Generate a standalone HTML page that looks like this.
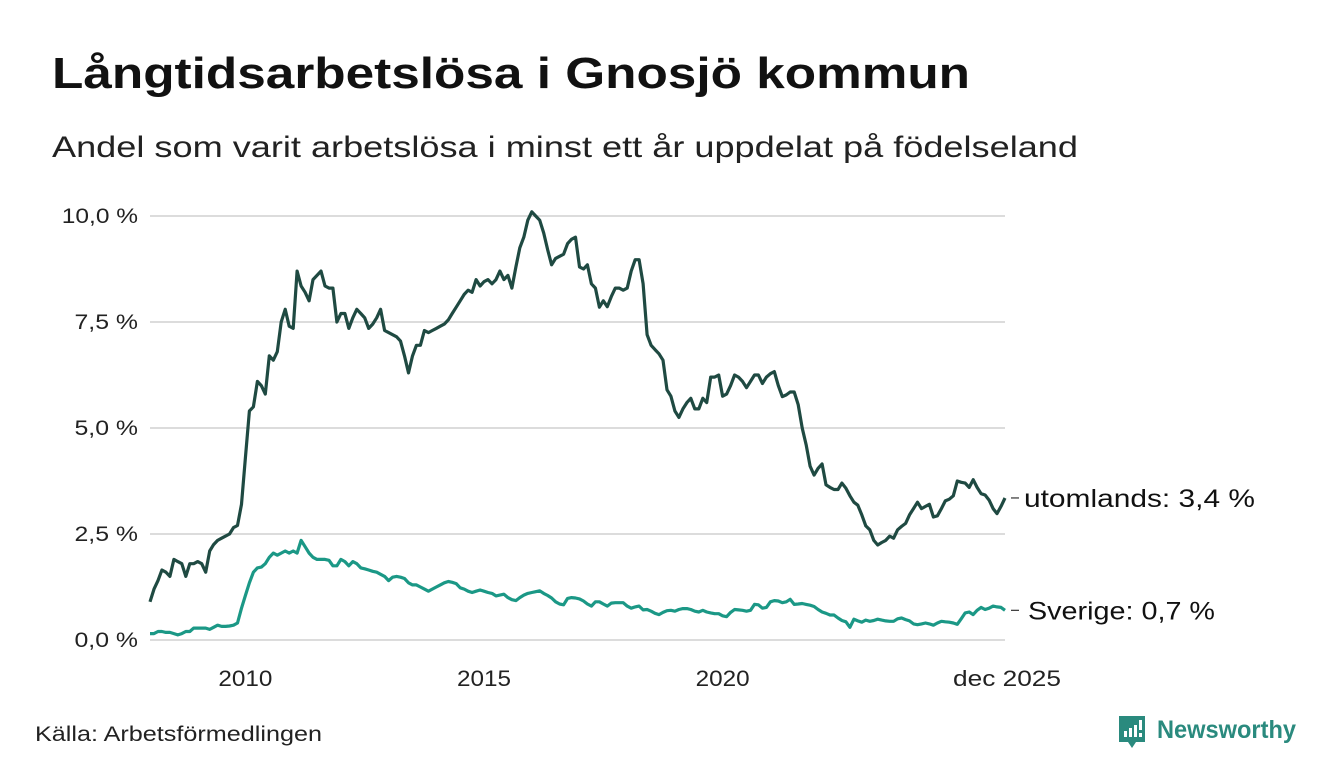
<!DOCTYPE html>
<html><head><meta charset="utf-8"><style>
html,body{margin:0;padding:0;background:#fff;width:1340px;height:780px;overflow:hidden}
svg text{font-family:"Liberation Sans",sans-serif}
</style></head><body>
<svg id="chart" width="1340" height="780" xmlns="http://www.w3.org/2000/svg">
<text x="52" y="88" font-size="44" font-weight="bold" fill="#111" textLength="918" lengthAdjust="spacingAndGlyphs">Långtidsarbetslösa i Gnosjö kommun</text>
<text x="52" y="157" font-size="30" fill="#222" textLength="1026" lengthAdjust="spacingAndGlyphs">Andel som varit arbetslösa i minst ett år uppdelat på födelseland</text>
<g id="grid"></g>
<g id="lines"></g>
<g id="labels"></g>
<text x="35" y="741" font-size="21" fill="#222" textLength="287" lengthAdjust="spacingAndGlyphs">Källa: Arbetsförmedlingen</text>
<g>
<path d="M1119 716 h26 v26 h-9 l-4 6 l-4 -6 h-9 z" fill="#2a8a7e"/>
<rect x="1124" y="731" width="3" height="6" fill="#fff"/><rect x="1129" y="728" width="3" height="9" fill="#fff"/><rect x="1134" y="725" width="3" height="12" fill="#fff"/><rect x="1139" y="720" width="3" height="10" fill="#fff"/><rect x="1139" y="733" width="3" height="4" fill="#fff"/>
<text x="1157" y="738" font-size="25" font-weight="bold" fill="#2a8a7e" textLength="139" lengthAdjust="spacingAndGlyphs">Newsworthy</text>
</g>
</svg>
<script>
const yTicks = [0, 2.5, 5, 7.5, 10];
const yTickLabels = ["0,0 %", "2,5 %", "5,0 %", "7,5 %", "10,0 %"];
const xTicks = [2010, 2015, 2020, 2025.917];
const xTickLabels = ["2010", "2015", "2020", "dec 2025"];
const startYear = 2008;
const utomlands = [
0.9,1.2,1.4,1.65,1.6,1.5,1.9,1.85,1.8,1.5,1.8,1.8,
1.85,1.8,1.6,2.1,2.25,2.35,2.4,2.45,2.5,2.65,2.7,3.2,
4.3,5.4,5.5,6.1,6.0,5.8,6.7,6.6,6.8,7.5,7.8,7.4,
7.35,8.7,8.35,8.2,8.0,8.5,8.6,8.7,8.35,8.3,8.3,7.5,
7.7,7.7,7.35,7.6,7.8,7.7,7.6,7.35,7.45,7.6,7.8,7.3,
7.25,7.2,7.15,7.05,6.7,6.3,6.7,6.95,6.95,7.3,7.25,7.3,
7.35,7.4,7.45,7.55,7.7,7.85,8.0,8.15,8.25,8.2,8.5,8.35,
8.45,8.5,8.4,8.5,8.7,8.5,8.6,8.3,8.8,9.25,9.5,9.9,
10.1,10.0,9.9,9.6,9.2,8.85,9.0,9.05,9.1,9.35,9.45,9.5,
8.8,8.75,8.85,8.4,8.3,7.85,8.0,7.86,8.1,8.3,8.3,8.25,
8.3,8.7,8.97,8.97,8.4,7.2,6.95,6.85,6.75,6.6,5.9,5.75,
5.4,5.25,5.45,5.6,5.7,5.45,5.45,5.7,5.6,6.2,6.2,6.25,
5.75,5.8,6.0,6.25,6.2,6.1,5.95,6.1,6.25,6.25,6.05,6.2,
6.28,6.33,6.0,5.74,5.78,5.85,5.85,5.55,5.0,4.6,4.1,3.89,
4.05,4.15,3.66,3.6,3.55,3.55,3.7,3.58,3.4,3.25,3.18,2.95,
2.69,2.6,2.35,2.24,2.3,2.35,2.45,2.4,2.6,2.68,2.75,2.95,
3.1,3.25,3.1,3.15,3.2,2.9,2.93,3.1,3.28,3.32,3.4,3.75,
3.72,3.7,3.6,3.78,3.6,3.45,3.42,3.3,3.1,2.98,3.15,3.35];
const sverige = [
0.15,0.15,0.2,0.2,0.18,0.18,0.15,0.12,0.15,0.2,0.2,0.28,
0.28,0.28,0.28,0.25,0.3,0.35,0.32,0.32,0.33,0.35,0.4,0.75,
1.05,1.35,1.6,1.7,1.72,1.8,1.95,2.05,2.0,2.05,2.1,2.05,
2.1,2.05,2.35,2.2,2.05,1.95,1.9,1.9,1.9,1.88,1.75,1.75,
1.9,1.85,1.75,1.85,1.8,1.7,1.68,1.65,1.62,1.6,1.55,1.5,
1.4,1.48,1.5,1.48,1.45,1.35,1.3,1.3,1.25,1.2,1.15,1.2,
1.25,1.3,1.35,1.38,1.36,1.33,1.23,1.2,1.15,1.12,1.15,1.18,
1.15,1.12,1.1,1.04,1.06,1.08,1.0,0.95,0.93,1.0,1.06,1.1,
1.12,1.14,1.16,1.1,1.05,0.99,0.9,0.85,0.83,0.98,1.0,0.99,
0.97,0.92,0.85,0.8,0.9,0.9,0.85,0.8,0.87,0.88,0.88,0.88,
0.8,0.75,0.78,0.8,0.71,0.72,0.68,0.63,0.6,0.65,0.69,0.7,
0.68,0.72,0.74,0.74,0.72,0.68,0.66,0.7,0.66,0.64,0.62,0.62,
0.57,0.55,0.65,0.72,0.71,0.7,0.68,0.7,0.84,0.83,0.75,0.77,
0.9,0.93,0.92,0.88,0.9,0.96,0.84,0.85,0.86,0.84,0.82,0.79,
0.72,0.66,0.63,0.59,0.59,0.52,0.46,0.43,0.3,0.49,0.45,0.42,
0.47,0.44,0.46,0.49,0.47,0.45,0.44,0.44,0.5,0.52,0.48,0.45,
0.38,0.36,0.38,0.4,0.38,0.35,0.4,0.44,0.43,0.42,0.4,0.37,
0.5,0.64,0.66,0.6,0.7,0.77,0.72,0.75,0.8,0.78,0.77,0.7];
const seriesLabels = ["utomlands: 3,4 %", "Sverige: 0,7 %"];

const NS = "http://www.w3.org/2000/svg";
const X0 = 150, X1 = 1005;
const xScale = t => X0 + (t - startYear) / (2025.917 - startYear) * (X1 - X0);
const yScale = v => 640 - v * 42.4;
function mk(tag, attrs, parent, txt) {
  const e = document.createElementNS(NS, tag);
  for (const k in attrs) e.setAttribute(k, attrs[k]);
  if (txt !== undefined) e.textContent = txt;
  parent.appendChild(e);
  return e;
}
const grid = document.getElementById('grid');
yTicks.forEach((v, i) => {
  const l = mk('line', {x1: X0, x2: X1, y1: yScale(v), y2: yScale(v), stroke: '#dcdcdc', 'stroke-width': 2}, grid);
  
  
  const lbl = yTickLabels[i];
  const t = mk('text', {x: 138, y: yScale(v) + 7, 'text-anchor': 'end', 'font-size': 21, fill: '#222', textLength: lbl.length * 12.7, lengthAdjust: 'spacingAndGlyphs'}, grid, lbl);
  
  
});
xTicks.forEach((v, i) => {
  const lbl = xTickLabels[i];
  const t = mk('text', {x: xScale(v) + (i === 3 ? 2 : 0), y: 686, 'text-anchor': 'middle', 'font-size': 22, fill: '#222', textLength: lbl.length * 13.5, lengthAdjust: 'spacingAndGlyphs'}, grid, lbl);
  
  
});
const lines = document.getElementById('lines');
function draw(arr, color, name) {
  const d = arr.map((v, i) => (i ? 'L' : 'M') + xScale(startYear + i / 12).toFixed(1) + ' ' + yScale(v).toFixed(1)).join(' ');
  const p = mk('path', {d: d, fill: 'none', stroke: color, 'stroke-width': 3.2, 'stroke-linejoin': 'round'}, lines);
  
  
}
draw(sverige, '#1b9886', 'sverige-line');
draw(utomlands, '#1f4a42', 'utomlands-line');
const labs = document.getElementById('labels');
const labelWidths = [231, 187];
[[utomlands, 'utomlands-label'], [sverige, 'sverige-label']].forEach(([arr, name], i) => {
  const y = yScale(arr[arr.length - 1]);
  mk('line', {x1: 1011, x2: 1019, y1: y, y2: y, stroke: '#333', 'stroke-width': 1.2}, labs);
  const t = mk('text', {x: 1024 + i * 4, y: y + 9, 'font-size': 25, fill: '#111', textLength: labelWidths[i], lengthAdjust: 'spacingAndGlyphs'}, labs, seriesLabels[i]);
  
  
});
</script>
</body></html>
